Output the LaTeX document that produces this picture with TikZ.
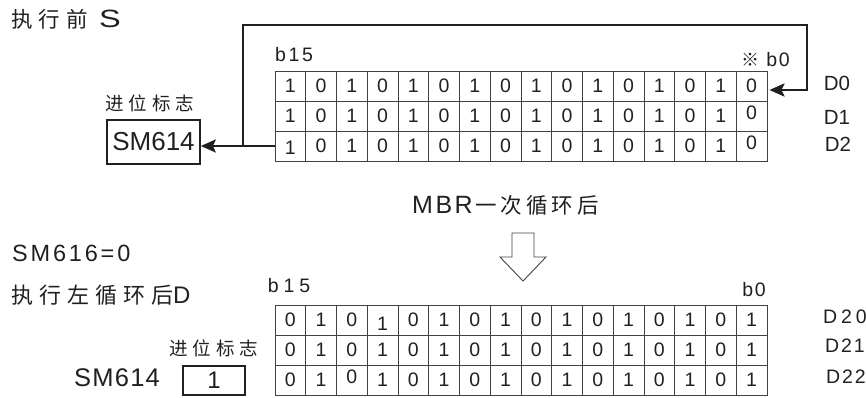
\documentclass[tikz,border=0pt]{standalone}
\usepackage{fontspec}
\usepackage{graphicx}
\setmainfont{Liberation Sans}
\newfontfamily\cjk{Noto Sans CJK SC}
\usetikzlibrary{arrows.meta}
\definecolor{ink}{HTML}{231F20}
\begin{document}
\begin{tikzpicture}[x=1pt,y=-1pt,
  cell/.style={draw=ink!85, line width=0.9pt, minimum width=30.75pt, minimum height=30pt,
    inner sep=0pt, text=ink, font=\fontsize{19.5}{19.5}\selectfont},
  txt/.style={inner sep=0pt, text=ink},
  arr/.style={line width=2.6pt, draw=ink, -{Stealth[length=15pt,width=13pt,inset=3pt]}},
  bx/.style={draw=ink, inner sep=0pt, text=ink}
]
\useasboundingbox (0,0) rectangle (866,398);

% ---------- top part ----------
\node[txt, anchor=west, font=\cjk\fontsize{21.5}{21.5}\selectfont] (t1) at (11,19)
  {执\hspace{6pt}行\hspace{6pt}前};
\node[txt, anchor=west, font=\fontsize{25}{25}\selectfont] (t1s) at (99,19) {\scalebox{1.3}[1]{S}};

\node[txt, font=\fontsize{19.5}{19.5}\selectfont\addfontfeature{LetterSpace=14}] (b15a) at (294,55) {b15};
\node[txt, font=\cjk\fontsize{18}{18}\selectfont] (ref) at (750,60) {※};
\node[txt, font=\fontsize{19.5}{19.5}\selectfont\addfontfeature{LetterSpace=8}] (b0a) at (778,60) {b0};

\foreach \r in {1,2,3}{
  \foreach \c in {0,...,15}{
    \pgfmathtruncatemacro\v{1-mod(\c,2)}
    \pgfmathsetmacro\dy{3*((\r>1)&&(\c==15)) - 2*((\r==3)&&(\c==0))}
    \node[cell] (a\r-\c) at ({275+30.75*(\c+0.5)},{71+30*(\r-0.5)})
      {\raisebox{\dy pt}[\height][\depth]{\v}};
  }
}

\node[txt, font=\fontsize{20.5}{20.5}\selectfont] (d0) at (837,83) {D0};
\node[txt, font=\fontsize{20.5}{20.5}\selectfont] (d1) at (837,117) {D1};
\node[txt, font=\fontsize{20.5}{20.5}\selectfont] (d2) at (838,144) {D2};

\node[txt, font=\cjk\fontsize{18.5}{18.5}\selectfont] (cf1) at (150,103)
  {进\hspace{5pt}位\hspace{5pt}标\hspace{5pt}志};
\node[bx, line width=1.6pt, minimum width=93pt, minimum height=44pt,
  font=\fontsize{26}{26}\selectfont] (sm) at (153.5,142) {SM614};

\coordinate (j) at (243,146);
\coordinate (tr) at (807,25);
\draw[arr] (a3-0.west) -- (a3-0.west -| sm.east);
\draw[arr] (j) |- (tr) |- ([xshift=2pt,yshift=-4pt]a1-15.east);

% ---------- middle ----------
\node[txt, anchor=west, font=\fontsize{25}{25}\selectfont\addfontfeature{LetterSpace=10}] (mbr) at (412,205) {MBR};
\node[txt, anchor=west, font=\cjk\fontsize{21.5}{21.5}\selectfont] (mbr2) at (475,205)
  {一\hspace{4pt}次\hspace{4pt}循\hspace{4pt}环\hspace{4pt}后};

\draw[line width=0.9pt, draw=ink!85] (512,233) -- (534,233) -- (534,257) -- (546,257)
  -- (523,281) -- (500,257) -- (512,257) -- cycle;

% ---------- bottom part ----------
\node[txt, anchor=west, font=\fontsize{23.5}{23.5}\selectfont\addfontfeature{LetterSpace=12}] (sm616) at (12,253) {SM616=0};
\node[txt, anchor=west, font=\cjk\fontsize{22}{22}\selectfont] (t2) at (11,295)
  {执\hspace{6pt}行\hspace{6pt}左\hspace{6pt}循\hspace{6pt}环\hspace{6pt}后};
\node[txt, anchor=west, font=\fontsize{24}{24}\selectfont] (t2d) at (173,295) {D};

\node[txt, font=\fontsize{19.5}{19.5}\selectfont\addfontfeature{LetterSpace=25}] (b15b) at (289,286) {b15};
\node[txt, font=\fontsize{19.5}{19.5}\selectfont\addfontfeature{LetterSpace=8}] (b0b) at (754,290) {b0};

\foreach \r in {1,2,3}{
  \foreach \c in {0,...,15}{
    \pgfmathtruncatemacro\v{mod(\c,2)}
    \pgfmathsetmacro\dy{-4*((\r==1)&&(\c==3)) + 3*((\r==3)&&(\c==2))}
    \node[cell] (b\r-\c) at ({275+30.75*(\c+0.5)},{305+30*(\r-0.5)})
      {\raisebox{\dy pt}[\height][\depth]{\v}};
  }
}

\node[txt, font=\fontsize{19.5}{19.5}\selectfont\addfontfeature{LetterSpace=20}] (d20) at (845,317) {D20};
\node[txt, font=\fontsize{19.5}{19.5}\selectfont\addfontfeature{LetterSpace=10}] (d21) at (845,346) {D21};
\node[txt, font=\fontsize{19.5}{19.5}\selectfont\addfontfeature{LetterSpace=10}] (d22) at (846,377) {D22};

\node[txt, font=\cjk\fontsize{18.5}{18.5}\selectfont] (cf2) at (214,348)
  {进\hspace{5pt}位\hspace{5pt}标\hspace{5pt}志};
\node[txt, font=\fontsize{25.5}{25.5}\selectfont\addfontfeature{LetterSpace=5}] (sm2) at (117,378) {SM614};
\node[bx, line width=2pt, minimum width=62pt, minimum height=29pt,
  font=\fontsize{24}{24}\selectfont] (one) at (214,380.5) {1};
\end{tikzpicture}
\end{document}
